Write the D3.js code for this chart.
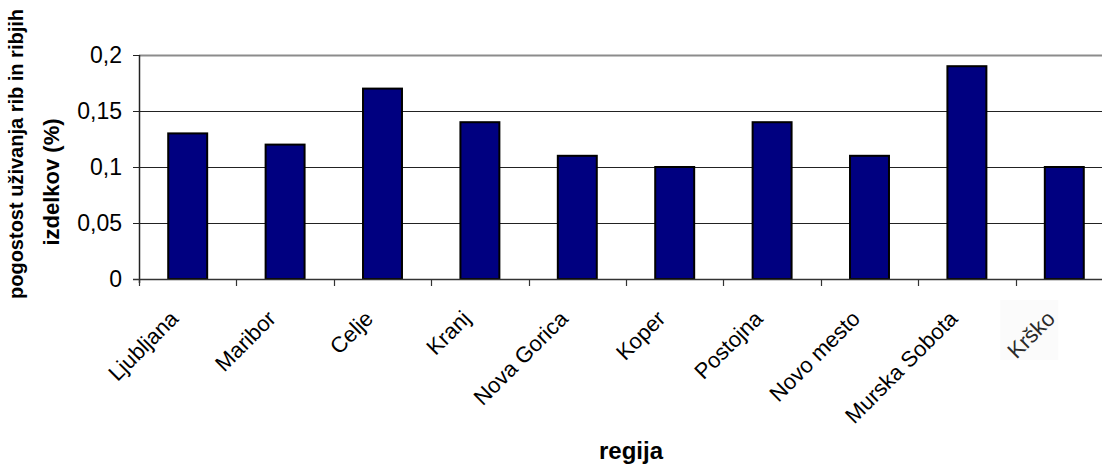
<!DOCTYPE html>
<html>
<head>
<meta charset="utf-8">
<script src="https://cdn.jsdelivr.net/npm/d3@7"></script>
<style>
  html, body { margin: 0; padding: 0; background: #fff; }
  svg { display: block; font-family: "Liberation Sans", Arial, sans-serif; }
</style>
</head>
<body>
<svg id="chart" width="1102" height="466"></svg>
<script>
// Regions and frequency of fish consumption (%)
const regions = ["Ljubljana", "Maribor", "Celje", "Kranj", "Nova Gorica", "Koper",
                 "Postojna", "Novo mesto", "Murska Sobota", "Krško"];
const frequency = [0.13, 0.12, 0.17, 0.14, 0.11, 0.10, 0.14, 0.11, 0.19, 0.10];
const yTicks = [0, 0.05, 0.1, 0.15, 0.2];
const yTitleLines = ["pogostost uživanja rib in ribjih", "izdelkov (%)"];
const xTitle = "regija";

const svg = d3.select("#chart");

const plot = { left: 139, top: 55, bottom: 279, width: 974 };

const x = d3.scaleBand()
  .domain(regions)
  .range([plot.left, plot.left + plot.width])
  .paddingInner(0).paddingOuter(0);

const y = d3.scaleLinear()
  .domain([0, 0.2])
  .range([plot.bottom, plot.top]);

const fmt = d => d3.format("")(d).replace(".", ",");

// horizontal gridlines (top one is the plot border)
svg.append("g")
  .selectAll("line")
  .data(yTicks.filter(t => t > 0))
  .join("line")
  .attr("x1", plot.left).attr("x2", plot.left + plot.width)
  .attr("y1", d => Math.round(y(d)) + 0.5).attr("y2", d => Math.round(y(d)) + 0.5)
  .attr("stroke", d => d === 0.2 ? "#8c8c8c" : "#222")
  .attr("stroke-width", d => d === 0.2 ? 2 : 1);

// bars
const barW = x.bandwidth() / 2.5;
svg.append("g")
  .selectAll("rect")
  .data(regions)
  .join("rect")
  .attr("x", d => x(d) + (x.bandwidth() - barW) / 2)
  .attr("y", (d, i) => y(frequency[i]))
  .attr("width", barW)
  .attr("height", (d, i) => y(0) - y(frequency[i]))
  .attr("fill", "#000080")
  .attr("stroke", "#000")
  .attr("stroke-width", 2);

// y axis
const yAxis = svg.append("g")
  .attr("transform", `translate(${plot.left},0)`)
  .call(d3.axisLeft(y).tickValues(yTicks).tickFormat(fmt).tickSize(6).tickPadding(11));
yAxis.select(".domain").attr("stroke", "#222").attr("stroke-width", 1.5).attr("d", `M0.5,${plot.top}V${plot.bottom + 4}`);
yAxis.selectAll(".tick line").attr("stroke", "#222");
yAxis.selectAll(".tick text")
  .attr("font-size", 23)
  .attr("font-family", "'Liberation Sans', Arial, sans-serif")
  .attr("fill", "#000");

// x axis with category boundary ticks
const xAxis = svg.append("g")
  .attr("transform", `translate(0,${plot.bottom})`);
xAxis.append("line")
  .attr("x1", plot.left - 6).attr("x2", plot.left + plot.width)
  .attr("y1", 0.5).attr("y2", 0.5)
  .attr("stroke", "#333").attr("stroke-width", 1.5);
xAxis.selectAll("line.tick")
  .data(regions)
  .join("line")
  .attr("class", "tick")
  .attr("x1", d => Math.round(x(d)) + 0.5).attr("x2", d => Math.round(x(d)) + 0.5)
  .attr("y1", 0).attr("y2", 7)
  .attr("stroke", "#333").attr("stroke-width", 1.2);

// rotated category labels
const labelAnchor = d => [x(d) + x.bandwidth() / 2 - 8, plot.bottom + 41];
const last = regions[regions.length - 1];

// faint backdrop behind the last label
svg.append("rect")
  .attr("x", labelAnchor(last)[0] - 56)
  .attr("y", labelAnchor(last)[1] - 20)
  .attr("width", 58).attr("height", 60)
  .attr("fill", "#fbfbfb");

svg.append("g")
  .selectAll("text")
  .data(regions)
  .join("text")
  .attr("transform", d => `translate(${labelAnchor(d)}) rotate(-45)`)
  .attr("text-anchor", "end")
  .attr("font-size", 22)
  .attr("fill", d => d === last ? "#2a2a2a" : "#000")
  .text(d => d);

// axis titles
svg.append("text")
  .attr("x", 631).attr("y", 459)
  .attr("text-anchor", "middle")
  .attr("font-size", 24)
  .attr("font-weight", "bold")
  .text(xTitle);

svg.append("text")
  .attr("transform", "translate(23,299) rotate(-90)")
  .attr("text-anchor", "start")
  .attr("font-size", 20)
  .attr("font-weight", "bold")
  .text(yTitleLines[0]);

svg.append("text")
  .attr("transform", "translate(59,182) rotate(-90)")
  .attr("text-anchor", "middle")
  .attr("font-size", 22)
  .attr("font-weight", "bold")
  .text(yTitleLines[1]);
</script>
</body>
</html>
